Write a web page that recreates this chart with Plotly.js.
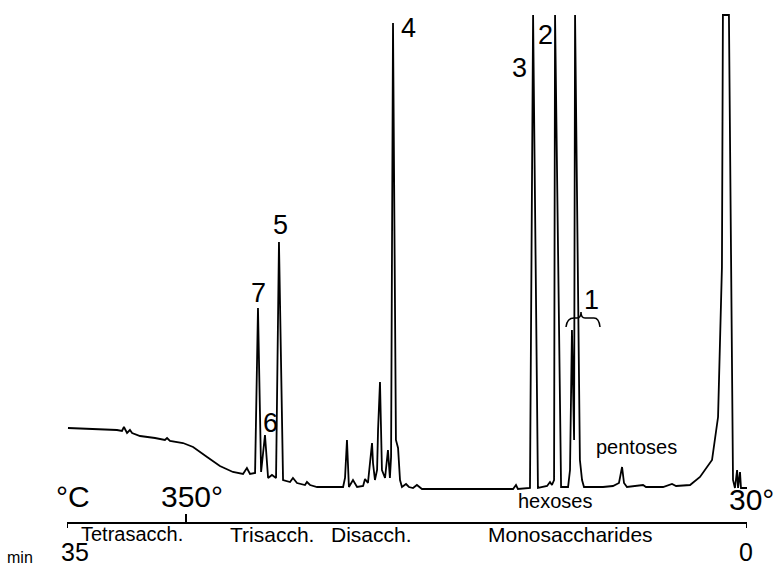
<!DOCTYPE html>
<html>
<head>
<meta charset="utf-8">
<script src="https://cdn.plot.ly/plotly-3.0.1.min.js"></script>
<style>html,body{margin:0;padding:0;background:#fff;}#chart{width:774px;height:568px;}</style>
</head>
<body>
<div id="chart"></div>
<script>
// Retention time (min, run counts down from 35 to 0) and detector signal (arbitrary units)
const time = [34.95,33.82,32.43,32.17,32.07,31.91,31.76,31.65,31.24,30.47,29.96,29.85,29.70,29.03,28.51,27.79,27.13,26.46,25.94,25.74,25.58,25.32,25.17,25.01,24.81,24.65,24.45,24.24,24.09,23.88,23.52,23.37,23.16,22.75,22.65,22.49,22.13,20.79,20.69,20.59,20.49,20.28,20.07,19.76,19.66,19.51,19.30,19.25,19.15,19.04,18.99,18.89,18.79,18.63,18.48,18.38,18.32,18.22,18.07,17.96,17.86,17.76,17.55,17.40,17.19,16.99,16.73,12.04,11.89,11.79,11.17,11.01,10.76,10.29,10.14,10.04,9.93,9.88,9.57,9.21,9.11,9.01,8.90,8.85,8.70,8.60,8.49,8.39,8.08,7.41,6.90,6.59,6.43,6.33,6.18,5.35,5.20,4.32,3.86,3.65,2.93,2.42,1.80,1.49,1.29,1.24,0.93,0.72,0.62,0.51,0.46,0.36,0.31,0.00];
const signal = [18.8,18.6,18.4,18.2,19.0,17.8,18.4,17.8,17.2,16.8,16.4,16.8,16.2,15.8,15.0,13.0,11.2,10.0,9.6,10.8,9.6,9.8,42.8,10.0,17.4,8.8,9.4,8.8,56.0,8.4,8.0,8.8,7.8,7.4,8.0,7.4,7.0,7.0,8.8,16.4,7.0,8.4,7.0,7.2,8.6,7.8,15.8,11.8,8.4,10.4,18.4,28.0,10.4,8.8,14.4,8.8,13.0,99.8,16.4,14.8,8.4,7.0,7.6,7.0,6.8,7.4,6.6,6.6,7.4,6.6,6.8,101.4,6.8,7.2,8.0,7.4,8.4,101.4,7.0,7.0,10.4,38.4,16.4,101.4,44.4,12.4,8.4,7.0,7.0,7.0,7.2,7.8,11.0,7.8,7.0,7.4,7.0,7.0,7.6,7.2,7.4,9.0,12.4,21.0,51.0,101.4,101.4,8.4,6.8,10.4,6.8,10.0,6.8,6.8];

const fractionLabels = ["Tetrasacch.","Trisacch.","Disacch.","Monosaccharides"];
const peakLabels = ["1","2","3","4","5","6","7"];
const tempLabels = ["°C","350°","30°"];
const timeLabels = ["35","0"];
const tempTickTime = 28.87;

// pixel helpers for decorations (plot area: x 67..747, y 0..522)
const tx = p => 35*(747-p)/680;
const sy = p => (522-p)/5;
const XP = p => (p-67)/680;
const YP = p => (522-p)/522;

const FONT = "Liberation Sans, Arial, Helvetica, sans-serif";
function ann(text, xp, yp, size, yanchor){
  return {text:text, x:XP(xp), y:YP(yp), xref:'paper', yref:'paper', showarrow:false,
    xanchor:'center', yanchor:yanchor||'middle', borderpad:0,
    font:{family:FONT, size:size, color:'#000'}};
}

const annotations = [
  ann(peakLabels[0], 591, 300, 27),
  ann(peakLabels[1], 545, 35, 27),
  ann(peakLabels[2], 519, 68, 27),
  ann(peakLabels[3], 408, 28, 27),
  ann(peakLabels[4], 280, 225, 27),
  ann(peakLabels[5], 270, 423, 27),
  ann(peakLabels[6], 258, 293, 27),
  ann("pentoses", 636, 447, 20),
  ann("hexoses", 555, 501, 20),
  ann(tempLabels[0], 73, 496, 30),
  ann(tempLabels[1], 192, 496, 30),
  ann(tempLabels[2], 751, 499, 30),
  ann(fractionLabels[0], 132, 534, 20),
  ann(fractionLabels[1], 272, 534, 21),
  ann(fractionLabels[2], 371, 534, 21),
  ann(fractionLabels[3], 570, 534, 21),
  ann(timeLabels[0], 75, 567, 25, 'bottom'),
  ann(timeLabels[1], 746, 567, 25, 'bottom'),
  ann("min", 20, 567, 16, 'bottom')
];

function P(x,y){ return tx(x).toFixed(3)+','+sy(y).toFixed(3); }
const bracePath = 'M'+P(566,327)+' Q'+P(567,318)+' '+P(574,318)+' L'+P(577,318)+
  ' Q'+P(581,318)+' '+P(581,312)+' Q'+P(581,318)+' '+P(585,318)+' L'+P(594,318)+
  ' Q'+P(599,318)+' '+P(600,327);

const shapes = [
  {type:'path', xref:'x', yref:'y', path:bracePath, line:{color:'#000', width:1.5}},
  {type:'line', xref:'x', yref:'paper', x0:35, x1:35, y0:0, y1:-6/522, line:{color:'#000', width:2}},
  {type:'line', xref:'x', yref:'paper', x0:0, x1:0, y0:0, y1:-6/522, line:{color:'#000', width:2}}
];

const trace = {x:time, y:signal, type:'scatter', mode:'lines',
  line:{color:'#000', width:1.8}, hoverinfo:'skip', cliponaxis:false};

const layout = {
  width:774, height:568,
  margin:{l:67, r:27, t:0, b:46, pad:0},
  paper_bgcolor:'#fff', plot_bgcolor:'#fff',
  showlegend:false,
  xaxis:{range:[35,0], showgrid:false, zeroline:false, showline:true, linecolor:'#000', linewidth:2,
    ticks:'inside', ticklen:8, tickwidth:2, tickcolor:'#000', tickvals:[35,tempTickTime,0], showticklabels:false},
  yaxis:{range:[0,104.4], visible:false, showgrid:false, zeroline:false},
  annotations:annotations,
  shapes:shapes,
  font:{family:FONT, color:'#000'}
};

Plotly.newPlot('chart', [trace], layout, {displayModeBar:false, staticPlot:true});
</script>
</body>
</html>
